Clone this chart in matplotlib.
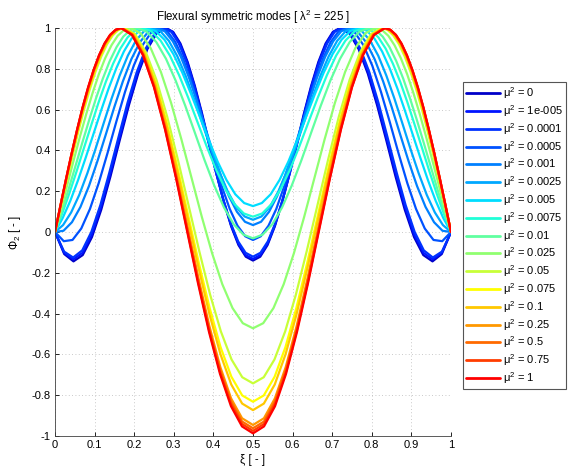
import matplotlib
matplotlib.use("Agg")
import matplotlib.pyplot as plt
from matplotlib.ticker import FuncFormatter

plt.rcParams['font.family'] = ['Liberation Sans', 'DejaVu Sans']
plt.rcParams['mathtext.fontset'] = 'custom'
plt.rcParams['mathtext.rm'] = 'Liberation Sans'
plt.rcParams['mathtext.it'] = 'Liberation Sans:italic'

mu2_labels = ['0', '1e-005', '0.0001', '0.0005', '0.001', '0.0025', '0.005',
              '0.0075', '0.01', '0.025', '0.05', '0.075', '0.1', '0.25',
              '0.5', '0.75', '1']

# ---- curve data (xi, Phi_2) ----
x_mu_0 = [0, 0.0233, 0.0467, 0.07, 0.0933, 0.1167, 0.14, 0.1633, 0.1867, 0.21, 0.2333, 0.2567, 0.28, 0.2983, 0.3167, 0.335, 0.3533, 0.3717, 0.39, 0.4083, 0.4267, 0.445, 0.4633, 0.4817, 0.5,
          0.5183, 0.5367, 0.555, 0.5733, 0.5917, 0.61, 0.6283, 0.6467, 0.665, 0.6833, 0.7017, 0.72, 0.7433, 0.7667, 0.79, 0.8133, 0.8367, 0.86, 0.8833, 0.9067, 0.93, 0.9533, 0.9767, 1]
y_mu_0 = [0, -0.108, -0.144, -0.113, -0.025, 0.109, 0.272, 0.449, 0.622, 0.776, 0.897, 0.974, 1, 0.981, 0.924, 0.833, 0.715, 0.578, 0.430, 0.282, 0.145, 0.027, -0.064, -0.121, -0.140,
          -0.121, -0.064, 0.027, 0.145, 0.282, 0.430, 0.578, 0.715, 0.833, 0.924, 0.981, 1, 0.974, 0.897, 0.776, 0.622, 0.449, 0.272, 0.109, -0.025, -0.113, -0.144, -0.108, 0]

x_mu_1e5 = [0, 0.0232, 0.0463, 0.0695, 0.0927, 0.1158, 0.139, 0.1622, 0.1853, 0.2085, 0.2317, 0.2548, 0.278, 0.2965, 0.315, 0.3335, 0.352, 0.3705, 0.389, 0.4075, 0.426, 0.4445, 0.463, 0.4815, 0.5,
            0.5185, 0.537, 0.5555, 0.574, 0.5925, 0.611, 0.6295, 0.648, 0.6665, 0.685, 0.7035, 0.722, 0.7452, 0.7683, 0.7915, 0.8147, 0.8378, 0.861, 0.8842, 0.9073, 0.9305, 0.9537, 0.9768, 1]
y_mu_1e5 = [0, -0.102, -0.134, -0.102, -0.013, 0.121, 0.283, 0.457, 0.628, 0.780, 0.898, 0.974, 1, 0.981, 0.924, 0.834, 0.717, 0.580, 0.434, 0.288, 0.151, 0.034, -0.056, -0.113, -0.132,
            -0.113, -0.056, 0.034, 0.151, 0.288, 0.434, 0.580, 0.717, 0.834, 0.924, 0.981, 1, 0.974, 0.898, 0.780, 0.628, 0.457, 0.283, 0.121, -0.013, -0.102, -0.134, -0.102, 0]

x_mu_1e4 = [0, 0.0229, 0.0458, 0.0688, 0.0917, 0.1146, 0.1375, 0.1604, 0.1833, 0.2063, 0.2292, 0.2521, 0.275, 0.2938, 0.3125, 0.3313, 0.35, 0.3688, 0.3875, 0.4063, 0.425, 0.4438, 0.4625, 0.4813, 0.5,
            0.5188, 0.5375, 0.5563, 0.575, 0.5938, 0.6125, 0.6313, 0.65, 0.6688, 0.6875, 0.7063, 0.725, 0.7479, 0.7708, 0.7938, 0.8167, 0.8396, 0.8625, 0.8854, 0.9083, 0.9313, 0.9542, 0.9771, 1]
y_mu_1e4 = [0, -0.096, -0.125, -0.090, 0.000, 0.132, 0.293, 0.465, 0.634, 0.783, 0.900, 0.974, 1, 0.981, 0.925, 0.836, 0.720, 0.585, 0.440, 0.294, 0.159, 0.043, -0.046, -0.102, -0.121,
            -0.102, -0.046, 0.043, 0.159, 0.294, 0.440, 0.585, 0.720, 0.836, 0.925, 0.981, 1, 0.974, 0.900, 0.783, 0.634, 0.465, 0.293, 0.132, 0.000, -0.090, -0.125, -0.096, 0]

x_mu_5e4 = [0, 0.0221, 0.0442, 0.0663, 0.0883, 0.1104, 0.1325, 0.1546, 0.1767, 0.1988, 0.2208, 0.2429, 0.265, 0.2846, 0.3042, 0.3238, 0.3433, 0.3629, 0.3825, 0.4021, 0.4217, 0.4413, 0.4608, 0.4804, 0.5,
            0.5196, 0.5392, 0.5588, 0.5783, 0.5979, 0.6175, 0.6371, 0.6567, 0.6763, 0.6958, 0.7154, 0.735, 0.7571, 0.7792, 0.8013, 0.8233, 0.8454, 0.8675, 0.8896, 0.9117, 0.9338, 0.9558, 0.9779, 1]
y_mu_5e4 = [0, -0.045, -0.039, 0.017, 0.113, 0.240, 0.386, 0.539, 0.686, 0.815, 0.915, 0.978, 1, 0.982, 0.930, 0.848, 0.740, 0.615, 0.481, 0.346, 0.221, 0.113, 0.031, -0.021, -0.039,
            -0.021, 0.031, 0.113, 0.221, 0.346, 0.481, 0.615, 0.740, 0.848, 0.930, 0.982, 1, 0.978, 0.915, 0.815, 0.686, 0.539, 0.386, 0.240, 0.113, 0.017, -0.039, -0.045, 0]

x_mu_1e3 = [0, 0.0214, 0.0428, 0.0643, 0.0857, 0.1071, 0.1285, 0.1499, 0.1713, 0.1928, 0.2142, 0.2356, 0.257, 0.2773, 0.2975, 0.3178, 0.338, 0.3583, 0.3785, 0.3988, 0.419, 0.4393, 0.4595, 0.4798, 0.5,
            0.5203, 0.5405, 0.5608, 0.581, 0.6013, 0.6215, 0.6418, 0.662, 0.6823, 0.7025, 0.7228, 0.743, 0.7644, 0.7858, 0.8072, 0.8287, 0.8501, 0.8715, 0.8929, 0.9143, 0.9357, 0.9572, 0.9786, 1]
y_mu_1e3 = [0, 0.006, 0.048, 0.123, 0.225, 0.347, 0.479, 0.613, 0.738, 0.847, 0.930, 0.982, 1, 0.984, 0.935, 0.859, 0.759, 0.642, 0.517, 0.392, 0.276, 0.175, 0.099, 0.050, 0.034,
            0.050, 0.099, 0.175, 0.276, 0.392, 0.517, 0.642, 0.759, 0.859, 0.935, 0.984, 1, 0.982, 0.930, 0.847, 0.738, 0.613, 0.479, 0.347, 0.225, 0.123, 0.048, 0.006, 0]

x_mu_25e4 = [0, 0.0204, 0.0408, 0.0613, 0.0817, 0.1021, 0.1225, 0.1429, 0.1633, 0.1838, 0.2042, 0.2246, 0.245, 0.2663, 0.2875, 0.3088, 0.33, 0.3513, 0.3725, 0.3938, 0.415, 0.4363, 0.4575, 0.4788, 0.5,
             0.5213, 0.5425, 0.5638, 0.585, 0.6063, 0.6275, 0.6488, 0.67, 0.6913, 0.7125, 0.7338, 0.755, 0.7754, 0.7958, 0.8163, 0.8367, 0.8571, 0.8775, 0.8979, 0.9183, 0.9388, 0.9592, 0.9796, 1]
y_mu_25e4 = [0, 0.034, 0.096, 0.182, 0.288, 0.406, 0.531, 0.654, 0.767, 0.864, 0.938, 0.984, 1, 0.984, 0.937, 0.862, 0.765, 0.652, 0.530, 0.408, 0.295, 0.198, 0.123, 0.076, 0.060,
             0.076, 0.123, 0.198, 0.295, 0.408, 0.530, 0.652, 0.765, 0.862, 0.937, 0.984, 1, 0.984, 0.938, 0.864, 0.767, 0.654, 0.531, 0.406, 0.288, 0.182, 0.096, 0.034, 0]

x_mu_5e3 = [0, 0.0193, 0.0387, 0.058, 0.0773, 0.0967, 0.116, 0.1353, 0.1547, 0.174, 0.1933, 0.2127, 0.232, 0.2543, 0.2767, 0.299, 0.3213, 0.3437, 0.366, 0.3883, 0.4107, 0.433, 0.4553, 0.4777, 0.5,
            0.5223, 0.5447, 0.567, 0.5893, 0.6117, 0.634, 0.6563, 0.6787, 0.701, 0.7233, 0.7457, 0.768, 0.7873, 0.8067, 0.826, 0.8453, 0.8647, 0.884, 0.9033, 0.9227, 0.942, 0.9613, 0.9807, 1]
y_mu_5e3 = [0, 0.068, 0.153, 0.253, 0.363, 0.478, 0.593, 0.703, 0.802, 0.885, 0.948, 0.987, 1, 0.985, 0.942, 0.872, 0.782, 0.676, 0.564, 0.451, 0.345, 0.255, 0.185, 0.142, 0.127,
            0.142, 0.185, 0.255, 0.345, 0.451, 0.564, 0.676, 0.782, 0.872, 0.942, 0.985, 1, 0.987, 0.948, 0.885, 0.802, 0.703, 0.593, 0.478, 0.363, 0.253, 0.153, 0.068, 0]

x_mu_75e4 = [0, 0.0183, 0.0367, 0.055, 0.0733, 0.0917, 0.11, 0.1283, 0.1467, 0.165, 0.1833, 0.2017, 0.22, 0.2433, 0.2667, 0.29, 0.3133, 0.3367, 0.36, 0.3833, 0.4067, 0.43, 0.4533, 0.4767, 0.5,
             0.5233, 0.5467, 0.57, 0.5933, 0.6167, 0.64, 0.6633, 0.6867, 0.71, 0.7333, 0.7567, 0.78, 0.7983, 0.8167, 0.835, 0.8533, 0.8717, 0.89, 0.9083, 0.9267, 0.945, 0.9633, 0.9817, 1]
y_mu_75e4 = [0, 0.091, 0.192, 0.300, 0.413, 0.525, 0.635, 0.736, 0.825, 0.899, 0.954, 0.988, 1, 0.984, 0.938, 0.865, 0.769, 0.657, 0.538, 0.418, 0.306, 0.210, 0.137, 0.091, 0.075,
             0.091, 0.137, 0.210, 0.306, 0.418, 0.538, 0.657, 0.769, 0.865, 0.938, 0.984, 1, 0.988, 0.954, 0.899, 0.825, 0.736, 0.635, 0.525, 0.413, 0.300, 0.192, 0.091, 0]

x_mu_1e2 = [0, 0.0173, 0.0345, 0.0518, 0.069, 0.0863, 0.1035, 0.1208, 0.138, 0.1553, 0.1725, 0.1898, 0.207, 0.2314, 0.2558, 0.2803, 0.3047, 0.3291, 0.3535, 0.3779, 0.4023, 0.4268, 0.4512, 0.4756, 0.5,
            0.5244, 0.5488, 0.5733, 0.5977, 0.6221, 0.6465, 0.6709, 0.6953, 0.7198, 0.7442, 0.7686, 0.793, 0.8103, 0.8275, 0.8448, 0.862, 0.8793, 0.8965, 0.9138, 0.931, 0.9483, 0.9655, 0.9828, 1]
y_mu_1e2 = [0, 0.102, 0.211, 0.324, 0.438, 0.549, 0.655, 0.752, 0.837, 0.906, 0.958, 0.989, 1, 0.982, 0.931, 0.849, 0.742, 0.618, 0.485, 0.351, 0.227, 0.120, 0.038, -0.013, -0.031,
            -0.013, 0.038, 0.120, 0.227, 0.351, 0.485, 0.618, 0.742, 0.849, 0.931, 0.982, 1, 0.989, 0.958, 0.906, 0.837, 0.752, 0.655, 0.549, 0.438, 0.324, 0.211, 0.102, 0]

x_mu_25e3 = [0, 0.0158, 0.0317, 0.0475, 0.0633, 0.0792, 0.095, 0.1108, 0.1267, 0.1425, 0.1583, 0.1742, 0.19, 0.2158, 0.2417, 0.2675, 0.2933, 0.3192, 0.345, 0.3708, 0.3967, 0.4225, 0.4483, 0.4742, 0.5,
             0.5258, 0.5517, 0.5775, 0.6033, 0.6292, 0.655, 0.6808, 0.7067, 0.7325, 0.7583, 0.7842, 0.81, 0.8258, 0.8417, 0.8575, 0.8733, 0.8892, 0.905, 0.9208, 0.9367, 0.9525, 0.9683, 0.9842, 1]
y_mu_25e3 = [0, 0.117, 0.236, 0.354, 0.470, 0.580, 0.682, 0.774, 0.852, 0.915, 0.962, 0.990, 1, 0.975, 0.901, 0.784, 0.632, 0.454, 0.264, 0.074, -0.104, -0.256, -0.373, -0.447, -0.472,
             -0.447, -0.373, -0.256, -0.104, 0.074, 0.264, 0.454, 0.632, 0.784, 0.901, 0.975, 1, 0.990, 0.962, 0.915, 0.852, 0.774, 0.682, 0.580, 0.470, 0.354, 0.236, 0.117, 0]

x_mu_5e2 = [0, 0.0146, 0.0292, 0.0438, 0.0583, 0.0729, 0.0875, 0.1021, 0.1167, 0.1313, 0.1458, 0.1604, 0.175, 0.2021, 0.2292, 0.2563, 0.2833, 0.3104, 0.3375, 0.3646, 0.3917, 0.4188, 0.4458, 0.4729, 0.5,
            0.5271, 0.5542, 0.5813, 0.6083, 0.6354, 0.6625, 0.6896, 0.7167, 0.7438, 0.7708, 0.7979, 0.825, 0.8396, 0.8542, 0.8688, 0.8833, 0.8979, 0.9125, 0.9271, 0.9417, 0.9563, 0.9708, 0.9854, 1]
y_mu_5e2 = [0, 0.125, 0.249, 0.371, 0.488, 0.597, 0.697, 0.785, 0.860, 0.920, 0.964, 0.991, 1, 0.970, 0.883, 0.745, 0.565, 0.354, 0.129, -0.096, -0.307, -0.487, -0.625, -0.712, -0.742,
            -0.712, -0.625, -0.487, -0.307, -0.096, 0.129, 0.354, 0.565, 0.745, 0.883, 0.970, 1, 0.991, 0.964, 0.920, 0.860, 0.785, 0.697, 0.597, 0.488, 0.371, 0.249, 0.125, 0]

x_mu_75e3 = [0, 0.0143, 0.0287, 0.043, 0.0573, 0.0717, 0.086, 0.1003, 0.1147, 0.129, 0.1433, 0.1577, 0.172, 0.1993, 0.2267, 0.254, 0.2813, 0.3087, 0.336, 0.3633, 0.3907, 0.418, 0.4453, 0.4727, 0.5,
             0.5273, 0.5547, 0.582, 0.6093, 0.6367, 0.664, 0.6913, 0.7187, 0.746, 0.7733, 0.8007, 0.828, 0.8423, 0.8567, 0.871, 0.8853, 0.8997, 0.914, 0.9283, 0.9427, 0.957, 0.9713, 0.9857, 1]
y_mu_75e3 = [0, 0.127, 0.253, 0.376, 0.493, 0.602, 0.701, 0.788, 0.863, 0.922, 0.965, 0.991, 1, 0.969, 0.877, 0.732, 0.542, 0.321, 0.084, -0.153, -0.374, -0.564, -0.709, -0.801, -0.832,
             -0.801, -0.709, -0.564, -0.374, -0.153, 0.084, 0.321, 0.542, 0.732, 0.877, 0.969, 1, 0.991, 0.965, 0.922, 0.863, 0.788, 0.701, 0.602, 0.493, 0.376, 0.253, 0.127, 0]

x_mu_1e1 = [0, 0.0143, 0.0285, 0.0428, 0.057, 0.0713, 0.0855, 0.0998, 0.114, 0.1283, 0.1425, 0.1568, 0.171, 0.1984, 0.2258, 0.2533, 0.2807, 0.3081, 0.3355, 0.3629, 0.3903, 0.4178, 0.4452, 0.4726, 0.5,
            0.5274, 0.5548, 0.5823, 0.6097, 0.6371, 0.6645, 0.6919, 0.7193, 0.7468, 0.7742, 0.8016, 0.829, 0.8433, 0.8575, 0.8718, 0.886, 0.9003, 0.9145, 0.9288, 0.943, 0.9573, 0.9715, 0.9858, 1]
y_mu_1e1 = [0, 0.128, 0.255, 0.378, 0.495, 0.604, 0.703, 0.790, 0.864, 0.922, 0.965, 0.991, 1, 0.968, 0.875, 0.726, 0.532, 0.306, 0.064, -0.179, -0.405, -0.599, -0.748, -0.841, -0.873,
            -0.841, -0.748, -0.599, -0.405, -0.179, 0.064, 0.306, 0.532, 0.726, 0.875, 0.968, 1, 0.991, 0.965, 0.922, 0.864, 0.790, 0.703, 0.604, 0.495, 0.378, 0.255, 0.128, 0]

x_mu_25e2 = [0, 0.0141, 0.0282, 0.0423, 0.0563, 0.0704, 0.0845, 0.0986, 0.1127, 0.1268, 0.1408, 0.1549, 0.169, 0.1966, 0.2242, 0.2518, 0.2793, 0.3069, 0.3345, 0.3621, 0.3897, 0.4173, 0.4448, 0.4724, 0.5,
             0.5276, 0.5552, 0.5828, 0.6103, 0.6379, 0.6655, 0.6931, 0.7207, 0.7483, 0.7758, 0.8034, 0.831, 0.8451, 0.8592, 0.8732, 0.8873, 0.9014, 0.9155, 0.9296, 0.9437, 0.9577, 0.9718, 0.9859, 1]
y_mu_25e2 = [0, 0.131, 0.259, 0.383, 0.500, 0.609, 0.707, 0.793, 0.866, 0.924, 0.966, 0.991, 1, 0.967, 0.870, 0.715, 0.514, 0.279, 0.027, -0.225, -0.460, -0.661, -0.816, -0.913, -0.946,
             -0.913, -0.816, -0.661, -0.460, -0.225, 0.027, 0.279, 0.514, 0.715, 0.870, 0.967, 1, 0.991, 0.966, 0.924, 0.866, 0.793, 0.707, 0.609, 0.500, 0.383, 0.259, 0.131, 0]

x_mu_5e1 = [0, 0.014, 0.028, 0.042, 0.056, 0.07, 0.084, 0.098, 0.112, 0.126, 0.14, 0.154, 0.168, 0.1957, 0.2233, 0.251, 0.2787, 0.3063, 0.334, 0.3617, 0.3893, 0.417, 0.4447, 0.4723, 0.5,
            0.5277, 0.5553, 0.583, 0.6107, 0.6383, 0.666, 0.6937, 0.7213, 0.749, 0.7767, 0.8043, 0.832, 0.846, 0.86, 0.874, 0.888, 0.902, 0.916, 0.93, 0.944, 0.958, 0.972, 0.986, 1]
y_mu_5e1 = [0, 0.131, 0.259, 0.383, 0.500, 0.609, 0.707, 0.793, 0.866, 0.924, 0.966, 0.991, 1, 0.967, 0.869, 0.713, 0.510, 0.273, 0.019, -0.235, -0.472, -0.675, -0.831, -0.929, -0.962,
            -0.929, -0.831, -0.675, -0.472, -0.235, 0.019, 0.273, 0.510, 0.713, 0.869, 0.967, 1, 0.991, 0.966, 0.924, 0.866, 0.793, 0.707, 0.609, 0.500, 0.383, 0.259, 0.131, 0]

x_mu_75e2 = [0, 0.0139, 0.0278, 0.0418, 0.0557, 0.0696, 0.0835, 0.0974, 0.1113, 0.1253, 0.1392, 0.1531, 0.167, 0.1948, 0.2225, 0.2503, 0.278, 0.3058, 0.3335, 0.3613, 0.389, 0.4168, 0.4445, 0.4723, 0.5,
             0.5278, 0.5555, 0.5833, 0.611, 0.6388, 0.6665, 0.6943, 0.722, 0.7498, 0.7775, 0.8053, 0.833, 0.8469, 0.8608, 0.8747, 0.8887, 0.9026, 0.9165, 0.9304, 0.9443, 0.9583, 0.9722, 0.9861, 1]
y_mu_75e2 = [0, 0.131, 0.259, 0.383, 0.500, 0.609, 0.707, 0.793, 0.866, 0.924, 0.966, 0.991, 1, 0.966, 0.868, 0.711, 0.506, 0.268, 0.013, -0.243, -0.481, -0.686, -0.843, -0.941, -0.975,
             -0.941, -0.843, -0.686, -0.481, -0.243, 0.013, 0.268, 0.506, 0.711, 0.868, 0.966, 1, 0.991, 0.966, 0.924, 0.866, 0.793, 0.707, 0.609, 0.500, 0.383, 0.259, 0.131, 0]

x_mu_1 = [0, 0.0139, 0.0278, 0.0417, 0.0556, 0.0694, 0.0833, 0.0972, 0.1111, 0.125, 0.1389, 0.1528, 0.1667, 0.1944, 0.2222, 0.25, 0.2778, 0.3056, 0.3333, 0.3611, 0.3889, 0.4167, 0.4444, 0.4722, 0.5,
          0.5278, 0.5556, 0.5833, 0.6111, 0.6389, 0.6667, 0.6944, 0.7222, 0.75, 0.7778, 0.8056, 0.8333, 0.8472, 0.8611, 0.875, 0.8889, 0.9028, 0.9167, 0.9306, 0.9444, 0.9583, 0.9722, 0.9861, 1]
y_mu_1 = [0, 0.131, 0.259, 0.383, 0.500, 0.609, 0.707, 0.793, 0.866, 0.924, 0.966, 0.991, 1, 0.966, 0.867, 0.709, 0.503, 0.264, 0.007, -0.251, -0.490, -0.696, -0.854, -0.953, -0.987,
          -0.953, -0.854, -0.696, -0.490, -0.251, 0.007, 0.264, 0.503, 0.709, 0.867, 0.966, 1, 0.991, 0.966, 0.924, 0.866, 0.793, 0.707, 0.609, 0.500, 0.383, 0.259, 0.131, 0]

xs = [x_mu_0, x_mu_1e5, x_mu_1e4, x_mu_5e4, x_mu_1e3, x_mu_25e4, x_mu_5e3, x_mu_75e4,
      x_mu_1e2, x_mu_25e3, x_mu_5e2, x_mu_75e3, x_mu_1e1, x_mu_25e2, x_mu_5e1, x_mu_75e2, x_mu_1]
ys = [y_mu_0, y_mu_1e5, y_mu_1e4, y_mu_5e4, y_mu_1e3, y_mu_25e4, y_mu_5e3, y_mu_75e4,
      y_mu_1e2, y_mu_25e3, y_mu_5e2, y_mu_75e3, y_mu_1e1, y_mu_25e2, y_mu_5e1, y_mu_75e2, y_mu_1]

colors = ['#0000C8', '#0014FF', '#0032FF', '#0052FF', '#0080FF', '#00A8FF',
          '#00DDFF', '#20FFD8', '#60FFA0', '#90FF70', '#C8FF38', '#FFFF00',
          '#FFC800', '#FF9800', '#FF6A00', '#FF3C00', '#FF0000']

xticks = [0, 0.1, 0.2, 0.3, 0.4, 0.5, 0.6, 0.7, 0.8, 0.9, 1]
yticks = [-1, -0.8, -0.6, -0.4, -0.2, 0, 0.2, 0.4, 0.6, 0.8, 1]

fig = plt.figure(figsize=(5.69, 4.71), dpi=100)
ax = fig.add_axes([55/569, 1-436/471, (451-55)/569, (436-28)/471])

for lab, xv, yv, c in zip(mu2_labels, xs, ys, colors):
    ax.plot(xv, yv, color=c, lw=1.6, label='\u03bc$^2$ = ' + lab,
            solid_joinstyle='round', solid_capstyle='round')

ax.set_xlim(0, 1)
ax.set_ylim(-1, 1)
ax.set_xticks(xticks)
ax.set_yticks(yticks)
fmt = FuncFormatter(lambda v, p: ('%g' % v) if abs(v) > 1e-9 else '0')
ax.xaxis.set_major_formatter(fmt)
ax.yaxis.set_major_formatter(fmt)
ax.tick_params(direction='in', length=3, width=0.6, labelsize=8, colors='black', pad=3)
ax.grid(True, linestyle=(0, (1, 3)), color='#b8b8b8', linewidth=0.6)
ax.set_axisbelow(True)
for s in ['top', 'right']:
    ax.spines[s].set_visible(False)
for s in ['left', 'bottom']:
    ax.spines[s].set_linewidth(0.6)
    ax.spines[s].set_color('#404040')

ax.set_title('Flexural symmetric modes [ \u03bb$^2$ = 225 ]', fontsize=8.3, pad=5)
ax.set_xlabel('\u03be [ - ]', fontsize=8.3, labelpad=3)
ax.set_ylabel('\u03a6$_2$ [ - ]', fontsize=8.3, labelpad=6)

leg = fig.legend(loc='upper left', bbox_to_anchor=(463/569, 1-82/471),
                 fontsize=8, frameon=True, fancybox=False, framealpha=1,
                 edgecolor='#555555', handlelength=3.0, handletextpad=0.3,
                 labelspacing=0.18, borderpad=0.3, borderaxespad=0)
leg.get_frame().set_linewidth(0.8)
for l in leg.get_lines():
    l.set_linewidth(2.0)

fig.savefig('out.png', dpi=100)
